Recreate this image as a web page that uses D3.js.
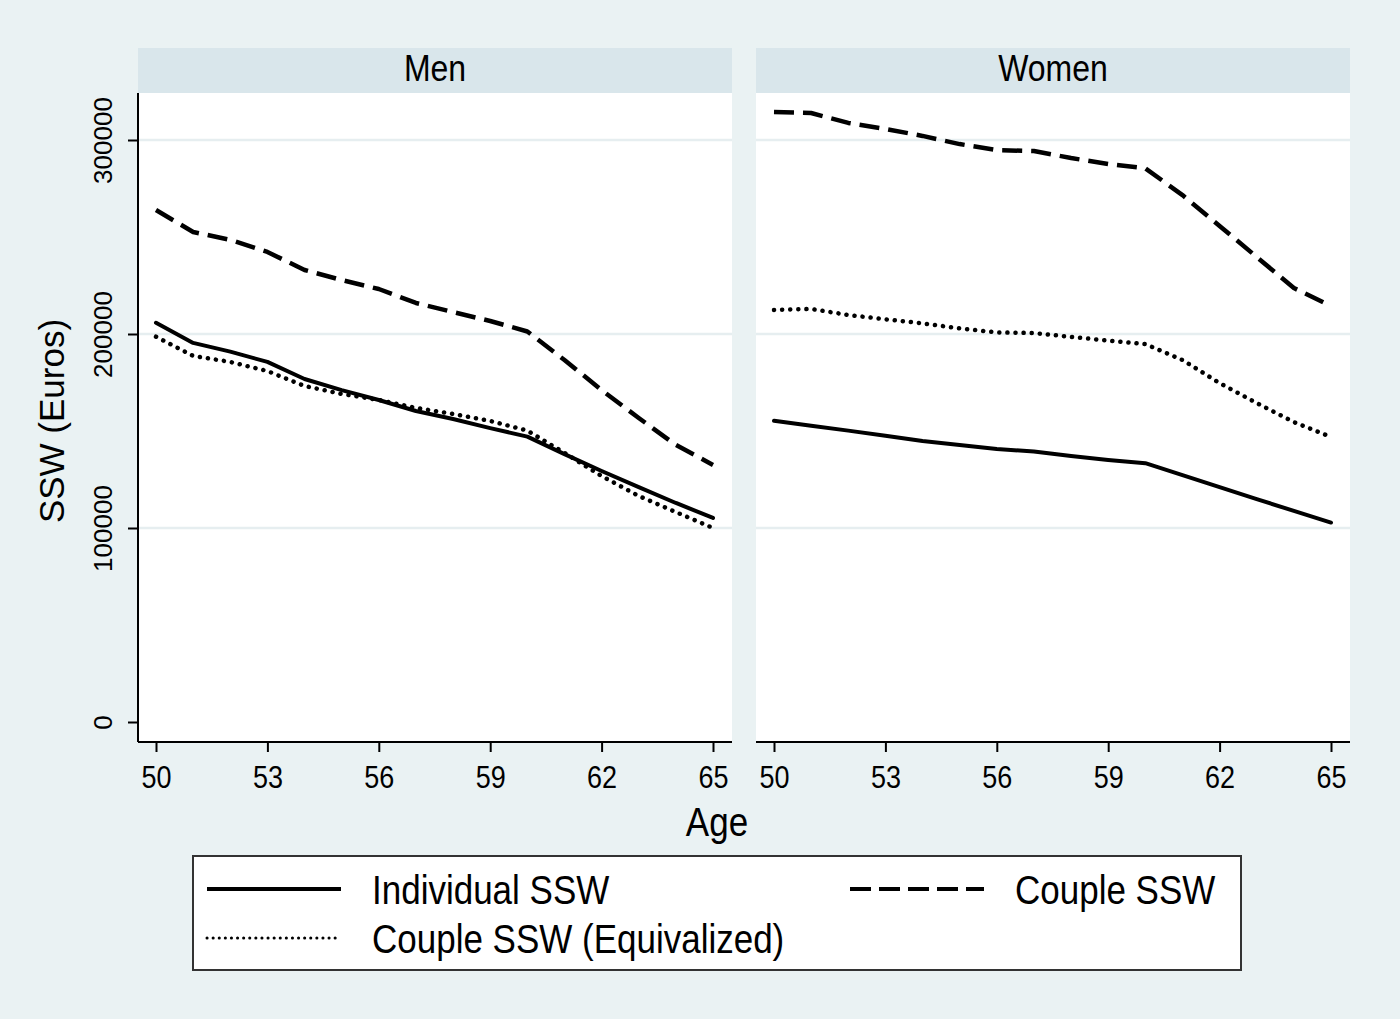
<!DOCTYPE html>
<html>
<head>
<meta charset="utf-8">
<script src="https://cdn.jsdelivr.net/npm/d3@7"></script>
<style>
  body { margin: 0; background: #eaf2f3; }
  text { font-family: "Liberation Sans", Arial, sans-serif; fill: #000; }
</style>
</head>
<body>
<div id="master"></div>
<script>
// data
let ages = [50, 51, 52, 53, 54, 55, 56, 57, 58, 59, 60, 61, 62, 63, 64, 65]
let xTicks = [50, 53, 56, 59, 62, 65]
let yTicks = [0, 100000, 200000, 300000]
let panels = ["Men", "Women"]

let menIndividual = [205800, 195400, 190900, 185600, 176800, 171100, 166000, 160300, 156200, 151500, 147100, 138100, 129400, 121100, 112900, 105200]
let menCouple = [263900, 252600, 248500, 242300, 233000, 227800, 223200, 216000, 211300, 206700, 201300, 186600, 171100, 156700, 142800, 132500]
let menEquiv = [198600, 188700, 185600, 180900, 173200, 169100, 166000, 161900, 158800, 155200, 150200, 138700, 126800, 116500, 108200, 100000]

let womenIndividual = [155300, 152700, 150200, 147600, 144800, 142800, 140700, 139400, 137100, 135100, 133400, 127300, 121100, 114900, 108800, 102800]
let womenCouple = [314400, 313900, 308800, 305700, 302100, 297900, 294800, 294300, 290700, 287600, 285400, 271600, 255700, 239700, 223700, 214400]
let womenEquiv = [212400, 212900, 209800, 207600, 205500, 202900, 200800, 200500, 198500, 196600, 194800, 186600, 174700, 164400, 154600, 146900]

let seriesNames = ["Individual SSW", "Couple SSW", "Couple SSW (Equivalized)"]

let w = 1400, h = 1019
let bg = "#eaf2f3", stripCol = "#d9e6eb", gridCol = "#e6eef0"
let sy = 1.15 // text in the original looks a bit stretched vertically

let styles = {
  "Individual SSW": { dash: null, cap: "round", width: 4 },
  "Couple SSW": { dash: "20 9", cap: "butt", width: 4.5 },
  "Couple SSW (Equivalized)": { dash: "0.1 8", cap: "round", width: 4.5 }
}

let panelData = {
  "Men": [menIndividual, menCouple, menEquiv],
  "Women": [womenIndividual, womenCouple, womenEquiv]
}

let svg = d3.select("#master").append("svg")
  .attr("width", w).attr("height", h)
  .style("display", "block")

svg.append("rect").attr("width", w).attr("height", h).attr("fill", bg)

let plotTop = 93, plotBottom = 742, panelW = 594
let panelX = [138, 756]

let y = d3.scaleLinear().domain([0, 300000]).range([722, 140])
let x = d3.scaleLinear().domain([50, 65]).range([18, 575])

panels.forEach((name, p) => {
  let g = svg.append("g").attr("transform", "translate(" + panelX[p] + ",0)")

  // strip
  g.append("rect").attr("x", 0).attr("y", 48).attr("width", panelW).attr("height", plotTop - 48).attr("fill", stripCol)
  g.append("text").attr("transform", "translate(" + panelW / 2 + ",81) scale(1," + sy + ")").attr("text-anchor", "middle")
    .style("font-size", "32px").text(name)

  // plot region
  g.append("rect").attr("x", 0).attr("y", plotTop).attr("width", panelW).attr("height", plotBottom - plotTop).attr("fill", "#fff")

  // grid
  g.selectAll(".grid").data(yTicks.filter(d => d > 0)).enter().append("line")
    .attr("x1", 0).attr("x2", panelW)
    .attr("y1", d => y(d)).attr("y2", d => y(d))
    .attr("stroke", gridCol).attr("stroke-width", 2.5)

  // lines
  let line = d3.line().x((d, i) => x(ages[i])).y(d => y(d))
  panelData[name].forEach((vals, k) => {
    let s = styles[seriesNames[k]]
    g.append("path").datum(vals)
      .attr("d", line)
      .attr("fill", "none").attr("stroke", "#000")
      .attr("stroke-width", s.width)
      .attr("stroke-linecap", s.cap)
      .attr("stroke-linejoin", "round")
      .attr("stroke-dasharray", s.dash)
  })

  // x axis
  let xAxis = d3.axisBottom(x).tickValues(xTicks).tickSize(10)
  let xg = g.append("g").attr("transform", "translate(0," + plotBottom + ")").call(xAxis)
  xg.select(".domain").attr("d", "M0,0H" + panelW).attr("stroke", "#000").attr("stroke-width", 2)
  xg.selectAll(".tick line").attr("stroke", "#000").attr("stroke-width", 2)
  xg.selectAll(".tick text")
    .attr("y", null).attr("dy", null)
    .attr("transform", "translate(0,46) scale(1," + sy + ")")
    .style("font-size", "27px").style("font-family", "Liberation Sans, Arial, sans-serif")

  // y axis on first panel only
  if (p == 0) {
    let yAxis = d3.axisLeft(y).tickValues(yTicks).tickSize(10).tickFormat(d3.format("d"))
    let yg = g.append("g").call(yAxis)
    yg.select(".domain").attr("d", "M0," + plotTop + "V" + plotBottom).attr("stroke", "#000").attr("stroke-width", 2)
    yg.selectAll(".tick line").attr("stroke", "#000").attr("stroke-width", 2)
    yg.selectAll(".tick text")
      .attr("x", null).attr("dy", null)
      .attr("text-anchor", "middle")
      .attr("transform", "translate(-26,0) rotate(-90)")
      .style("font-size", "26px").style("font-family", "Liberation Sans, Arial, sans-serif")
  }
})

// axis titles
svg.append("text").attr("transform", "translate(64,421) rotate(-90)")
  .attr("text-anchor", "middle").style("font-size", "35px").text("SSW (Euros)")
svg.append("text").attr("transform", "translate(717,836) scale(1," + sy + ")")
  .attr("text-anchor", "middle").style("font-size", "35px").text("Age")

// legend
let lg = svg.append("g")
lg.append("rect").attr("x", 193).attr("y", 856).attr("width", 1048).attr("height", 114)
  .attr("fill", "#fff").attr("stroke", "#333").attr("stroke-width", 2)

let legendPos = [
  { x: 207, y: 889 },
  { x: 850, y: 889 },
  { x: 207, y: 938 }
]
let legendDash = { "Individual SSW": null, "Couple SSW": "21 8", "Couple SSW (Equivalized)": "0.1 6" }

seriesNames.forEach((n, k) => {
  let pos = legendPos[k]
  lg.append("line").attr("x1", pos.x).attr("x2", pos.x + 134)
    .attr("y1", pos.y).attr("y2", pos.y)
    .attr("stroke", "#000")
    .attr("stroke-width", k == 2 ? 3 : 4)
    .attr("stroke-linecap", k == 2 ? "round" : "butt")
    .attr("stroke-dasharray", legendDash[n])
  lg.append("text").attr("transform", "translate(" + (pos.x + 165) + "," + (pos.y + 15) + ") scale(1," + sy + ")")
    .style("font-size", "35px").text(n)
})
</script>
</body>
</html>
